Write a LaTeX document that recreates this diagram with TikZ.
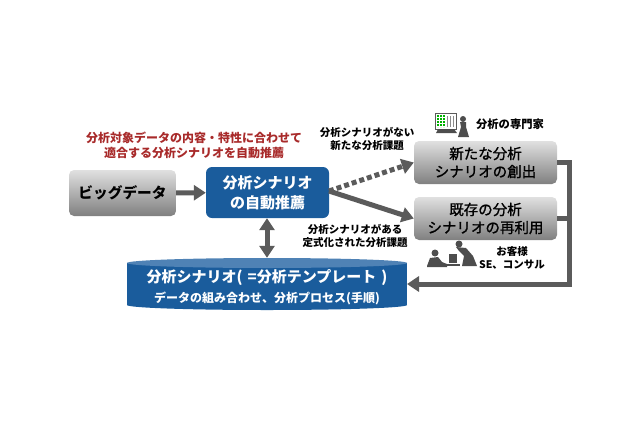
\documentclass[tikz,border=0pt]{standalone}
\usepackage{fontspec}
\setmainfont{Noto Sans CJK JP}
\newfontfamily\medfont{Noto Sans CJK JP}[FakeBold=1.2]
\usetikzlibrary{arrows.meta}
\definecolor{scblue}{HTML}{1A5C9C}
\definecolor{sctop}{HTML}{4F82B5}
\definecolor{scedge}{HTML}{5B5B5B}
\definecolor{scred}{HTML}{A82A2A}

\tikzset{
 graybox/.style={rounded corners=5pt,top color=black!12,bottom color=black!50,align=center,inner sep=0pt},
 bluebox/.style={rounded corners=6pt,fill=scblue,text=white,align=center,inner sep=0pt},
 flow/.style={->,line width=5pt,draw=scedge},
 note/.style={align=center,inner sep=0pt,font=\fontsize{10.5}{13}\selectfont\bfseries},
 icon/.style={fill=scedge!85!black,draw=none},
}

\begin{document}
\begin{tikzpicture}[x=1pt,y=-1pt,>={Triangle[length=12pt,width=15pt]}]
 \useasboundingbox (0,0) rectangle (640,426);

 \node[graybox,minimum width=107pt,minimum height=46pt,font=\fontsize{14.7}{18}\selectfont\bfseries] (bigdata) at (122.5,193) {ビッグデータ};
 \node[bluebox,minimum width=123pt,minimum height=51pt,font=\fontsize{15}{20}\selectfont\bfseries] (suggest) at (267.5,192.5) {分析シナリオ\\の自動推薦};
 \node[graybox,minimum width=143pt,minimum height=43pt,font=\fontsize{14.5}{18}\medfont] (create) at (485.5,162.5) {新たな分析\\シナリオの創出};
 \node[graybox,minimum width=143pt,minimum height=43pt,font=\fontsize{14.5}{18}\medfont] (reuse) at (485.5,218.5) {既存の分析\\シナリオの再利用};

 % scenario store
 \fill[scblue] (127,263) rectangle (407,305);
 \fill[scblue] (267,305) ellipse[x radius=140,y radius=5];
 \fill[sctop] (267,263) ellipse[x radius=140,y radius=5];
 \node[minimum width=280pt,minimum height=52pt,inner sep=0pt] (store) at (267,284) {};
 \node[text=white,inner sep=0pt,font=\fontsize{15}{18}\selectfont\bfseries] (storetitle) at (267,278) {分析シナリオ(\hspace{5pt}=分析テンプレート\hspace{5pt})};
 \node[text=white,inner sep=0pt,font=\fontsize{12}{14}\selectfont\bfseries] (storesub) at (267,298) {データの組み合わせ、分析プロセス(手順)};

 \node[note,text=scred,font=\fontsize{12}{15}\selectfont\bfseries] (lead) at (194,145.5) {分析対象データの内容・特性に合わせて\\適合する分析シナリオを自動推薦};
 \node[note] (nonelabel) at (367,139) {分析シナリオがない\\新たな分析課題};
 \node[note] (somelabel) at (355,235.5) {分析シナリオがある\\定式化された分析課題};
 \node[note,font=\fontsize{11.3}{14}\selectfont\bfseries] (expert) at (510,124) {分析の専門家};
 \node[note] (client) at (512,257.5) {お客様\\SE、コンサル};

 % connectors
 \draw[flow] (bigdata) -- (suggest);
 \draw[flow,<->] (suggest.south -| store.north) -- (store.north);
 \coordinate (left) at (329,191);
 \draw[flow] (left) -- (reuse.west);
 \draw[flow,dash pattern=on 5pt off 3pt] (left) -- (create.west);
 \coordinate (corner) at (569,284);
 \coordinate (back) at (407,284);
 \draw[flow] (create.east) -| (corner) -- (back);
 \draw[flow,-] (reuse.east) -- (reuse.east -| corner);

 % expert icon
 \draw[scedge,line width=0.8pt,fill=white] (435,113) rectangle (456,129);
 \foreach \i in {438,441,444}
  \draw[green!70!black,line width=1.2pt,dash pattern=on 2pt off 1pt] (\i,115) -- (\i,127);
 \foreach \i in {447,450,453}
  \draw[black!45,line width=1pt] (\i,116) -- (\i,127);
 \fill[icon] (438,129) -- (454,129) -- (457,133) -- (436,133) -- cycle;
 \fill[icon] (463,119) circle (3pt);
 \fill[icon] (460,122) -- (466,122) -- (466,127) -- (469,137) -- (458,137) -- (461,127) -- cycle;

 % client icon
 \fill[icon] (435,253) circle (3.5pt);
 \fill[icon] (427,266) -- (430,258) -- (438,257) -- (442,262) -- (447,264) -- (447,267) -- (427,267) -- cycle;
 \fill[icon] (449,254) -- (457,254) -- (457,263) -- (449,263) -- cycle;
 \fill[icon] (445,264) rectangle (460,266);
 \fill[icon] (459,244) circle (3.5pt);
 \fill[icon] (456,247) -- (466,248) -- (473,256) -- (477,266) -- (462,266) -- (464,256) -- (459,251) -- cycle;
\end{tikzpicture}
\end{document}
